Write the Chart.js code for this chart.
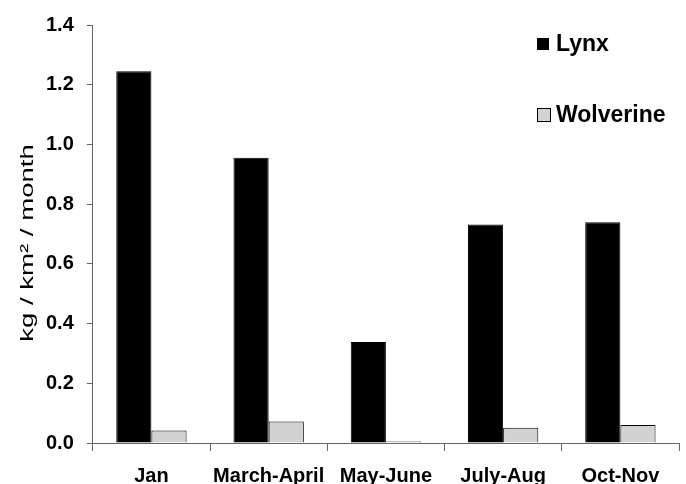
<!DOCTYPE html>
<html>
<head>
<meta charset="utf-8">
<script src="https://cdn.jsdelivr.net/npm/chart.js@4/dist/chart.umd.min.js"></script>
<style>
  html, body { margin: 0; padding: 0; background: #fff; }
  #wrap { width: 686px; height: 484px; }
</style>
</head>
<body>
<div id="wrap"><canvas id="chart"></canvas></div>
<script>
var categories = ["Jan", "March-April", "May-June", "July-Aug", "Oct-Nov"];
var lynx = [1.245, 0.955, 0.338, 0.732, 0.739];
var wolverine = [0.042, 0.072, 0.005, 0.051, 0.060];
var yTicks = [0, 0.2, 0.4, 0.6, 0.8, 1.0, 1.2, 1.4];
var yTitle = "kg / km² / month";

var FONT = "Arial, 'Liberation Sans', sans-serif";

// legend sits inside the plot, top right
var insideLegend = {
  id: "insideLegend",
  afterDraw: function (chart) {
    var ctx = chart.ctx;
    var rows = [44, 115];
    ctx.save();
    chart.data.datasets.forEach(function (ds, i) {
      var y = rows[i];
      var s = i === 0 ? 12 : 14;
      ctx.fillStyle = ds.backgroundColor;
      ctx.fillRect(537, y - s / 2, s, s);
      ctx.strokeStyle = "#000";
      ctx.lineWidth = 1;
      ctx.strokeRect(537.5, y - s / 2 + 0.5, s - 1, s - 1);
      ctx.fillStyle = "#000";
      ctx.font = "bold 23px " + FONT;
      ctx.textBaseline = "middle";
      ctx.fillText(ds.label, 556, y + 1);
    });
    ctx.restore();
  },
};

// y title, stretched along its length like the original
var stretchedTitle = {
  id: "stretchedTitle",
  afterDraw: function (chart) {
    var ctx = chart.ctx;
    ctx.save();
    ctx.translate(28, 243);
    ctx.rotate(-Math.PI / 2);
    ctx.scale(1.45, 1);
    ctx.font = "19px " + FONT;
    ctx.fillStyle = "#000";
    ctx.textAlign = "center";
    ctx.textBaseline = "middle";
    ctx.fillText(yTitle, 0, 0);
    ctx.restore();
  },
};

var ctx = document.getElementById("chart").getContext("2d");
var barChart = new Chart(ctx, {
  type: "bar",
  data: {
    labels: categories,
    datasets: [
      {
        label: "Lynx",
        data: lynx,
        backgroundColor: "#000000",
        borderColor: "#000000",
        borderWidth: 1,
      },
      {
        label: "Wolverine",
        data: wolverine,
        backgroundColor: "#d2d2d2",
        borderColor: "#000000",
        borderWidth: 1,
      },
    ],
  },
  options: {
    responsive: true,
    maintainAspectRatio: false,
    animation: false,
    layout: { padding: { top: 21, right: 7, left: 33, bottom: -17 } },
    datasets: {
      bar: { categoryPercentage: 0.6, barPercentage: 1.0 },
    },
    plugins: {
      legend: { display: false },
      tooltip: { enabled: false },
    },
    scales: {
      x: {
        grid: {
          offset: true,
          drawOnChartArea: false,
          drawTicks: true,
          tickLength: 8,
          color: "#666",
        },
        border: { color: "#666", width: 1 },
        ticks: {
          color: "#000",
          font: { family: FONT, size: 20, weight: "bold" },
          padding: 13,
          maxRotation: 0,
          autoSkip: false,
        },
      },
      y: {
        min: 0,
        max: 1.4,
        afterBuildTicks: function (axis) {
          axis.ticks = yTicks.map(function (v) { return { value: v }; });
        },
        grid: {
          drawOnChartArea: false,
          drawTicks: true,
          tickLength: 6,
          color: "#666",
        },
        border: { color: "#666", width: 1 },
        ticks: {
          color: "#000",
          padding: 13,
          font: { family: FONT, size: 20, weight: "bold" },
          callback: function (v) { return Number(v).toFixed(1); },
        },
      },
    },
  },
  plugins: [insideLegend, stretchedTitle],
});
</script>
</body>
</html>
